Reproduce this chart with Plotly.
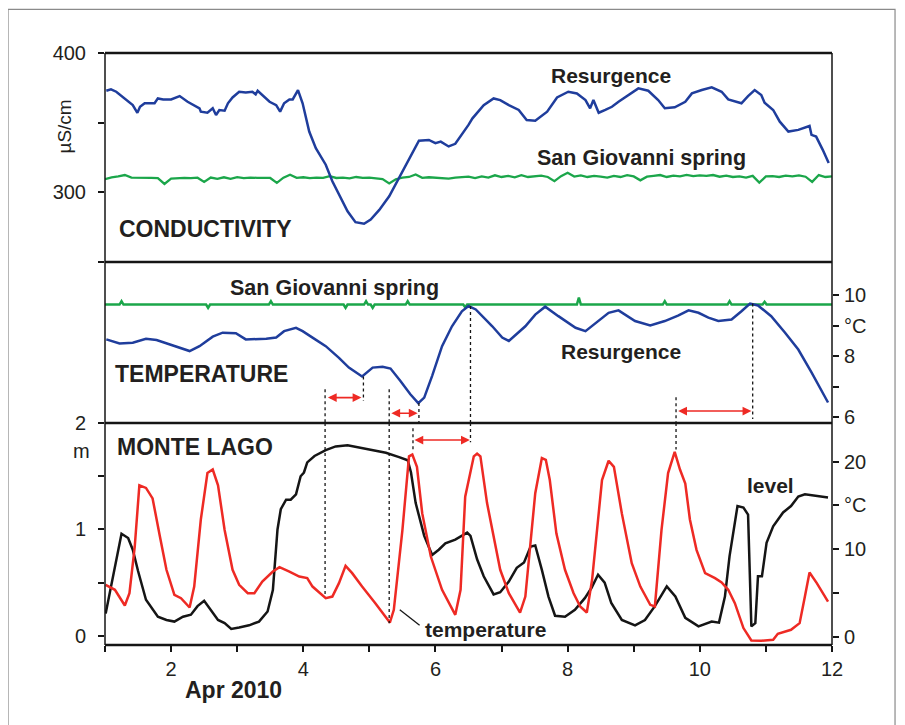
import plotly.graph_objects as go

# ---------------- DATA ----------------
# Conductivity (µS/cm) - Resurgence
res_cond_day = [1.02, 1.09, 1.17, 1.30, 1.42, 1.49, 1.53, 1.60, 1.75, 1.80, 1.88, 2.00, 2.13, 2.25, 2.43, 2.45,
                2.55, 2.63, 2.68, 2.73, 2.81, 2.86, 2.93, 3.03, 3.13, 3.23, 3.28, 3.31, 3.39, 3.49, 3.59, 3.65,
                3.71, 3.79, 3.84, 3.92, 3.99, 4.09, 4.19, 4.34, 4.44, 4.54, 4.67, 4.79, 4.92, 5.02, 5.15, 5.30,
                5.45, 5.60, 5.75, 5.90, 6.00, 6.08, 6.20, 6.30, 6.40, 6.50, 6.56, 6.73, 6.88, 6.98, 7.11, 7.26,
                7.38, 7.51, 7.69, 7.84, 8.01, 8.14, 8.27, 8.34, 8.39, 8.47, 8.57, 8.67, 8.77, 8.92, 9.07, 9.22,
                9.37, 9.47, 9.62, 9.78, 9.88, 10.03, 10.18, 10.33, 10.43, 10.63, 10.73, 10.83, 10.93, 10.98,
                11.11, 11.21, 11.34, 11.49, 11.66, 11.69, 11.76, 11.86, 11.95]
res_cond_val = [372.9, 373.9, 372.2, 367.4, 362.6, 357.1, 361.4, 363.9, 363.9, 367.4, 366.7, 366.7, 369.1, 365.0,
                360.3, 357.9, 357.1, 360.3, 355.5, 359.1, 358.6, 363.9, 368.1, 372.2, 371.7, 372.2, 370.3, 372.9,
                369.1, 365.0, 362.6, 357.9, 363.9, 366.7, 366.7, 373.4, 363.9, 343.6, 331.7, 319.8, 307.9, 298.4,
                286.4, 278.6, 277.4, 280.5, 287.4, 297.1, 310.3, 323.4, 337.1, 337.6, 335.3, 336.4, 332.9, 334.8,
                341.2, 348.4, 353.1, 362.6, 367.4, 366.2, 362.6, 359.1, 351.9, 351.4, 357.9, 368.1, 372.2, 371.0,
                366.2, 360.3, 366.2, 357.1, 359.1, 361.4, 365.0, 369.8, 374.6, 372.9, 366.2, 360.3, 361.0, 365.0,
                371.0, 373.4, 375.3, 372.2, 366.7, 363.9, 369.1, 373.4, 369.8, 364.3, 359.1, 350.7, 343.6, 344.8,
                347.6, 341.2, 340.0, 330.5, 321.0]

# Conductivity (µS/cm) - San Giovanni spring, every 0.1 day from 1.0 to 12.0
sg_cond_day = [round(1.0 + 0.1 * i, 1) for i in range(111)]
sg_cond_val = [309.5, 310.8, 311.5, 312.4, 310.5, 310.6, 310.3, 310.4, 310.2, 306.0,
               309.8, 310.3, 310.4, 310.2, 310.5, 307.5, 310.6, 309.6, 310.8, 309.7,
               310.9, 310.2, 310.6, 310.4, 310.6, 310.3, 306.8, 310.5, 312.6, 310.4,
               310.8, 310.2, 310.5, 310.4, 311.6, 310.3, 310.6, 310.0, 311.0, 310.3,
               310.5, 310.2, 309.5, 306.4, 309.4, 310.6, 311.0, 312.8, 310.4, 310.8,
               310.5, 310.6, 309.8, 310.5, 310.8, 311.2, 310.2, 311.4, 310.6, 312.2,
               311.0, 311.8, 310.8, 312.3, 311.0, 311.6, 312.0, 311.0, 308.0, 311.6,
               314.0, 311.3, 312.2, 311.0, 311.8, 311.2, 310.5, 311.8, 311.0, 312.3,
               311.4, 308.6, 311.2, 311.8, 312.4, 311.0, 312.0, 311.5, 312.5, 311.6,
               312.2, 311.8, 312.4, 311.2, 312.0, 311.0, 311.5, 310.6, 311.8, 307.0,
               311.4, 311.6, 311.0, 312.0, 311.4, 312.2, 311.2, 307.5, 312.4, 311.0,
               311.5]

# Temperature (°C) - Resurgence
res_temp_day = [1.02, 1.22, 1.42, 1.62, 1.78, 1.98, 2.28, 2.43, 2.63, 2.78, 2.98, 3.13, 3.29, 3.44, 3.59, 3.71,
                3.89, 3.99, 4.14, 4.34, 4.54, 4.69, 4.89, 5.05, 5.20, 5.32, 5.47, 5.62, 5.74, 5.83, 5.95, 6.10,
                6.25, 6.40, 6.50, 6.61, 6.86, 7.01, 7.11, 7.36, 7.51, 7.66, 7.86, 8.12, 8.27, 8.47, 8.62, 8.77,
                9.02, 9.25, 9.47, 9.67, 9.83, 9.98, 10.13, 10.28, 10.48, 10.63, 10.76, 10.88, 11.08, 11.29,
                11.49, 11.69, 11.84, 11.94]
res_temp_val = [8.55, 8.42, 8.44, 8.57, 8.53, 8.39, 8.17, 8.33, 8.64, 8.77, 8.75, 8.55, 8.55, 8.57, 8.61, 8.82,
                8.93, 8.82, 8.61, 8.33, 7.95, 7.63, 7.34, 7.63, 7.66, 7.60, 7.19, 6.76, 6.47, 6.65, 7.36, 8.33,
                8.98, 9.47, 9.64, 9.53, 8.98, 8.61, 8.50, 8.98, 9.36, 9.62, 9.31, 8.93, 8.82, 9.15, 9.42, 9.50,
                9.15, 9.01, 9.15, 9.33, 9.50, 9.42, 9.26, 9.15, 9.20, 9.47, 9.72, 9.66, 9.31, 8.77,
                8.22, 7.47, 6.87, 6.49]

# Temperature (°C) - San Giovanni spring
sg_temp_day = [1.0, 1.22, 1.25, 1.28, 2.53, 2.56, 2.59, 3.48, 3.51, 3.54, 4.61, 4.64, 4.67, 4.92, 4.95, 4.98,
               5.02, 5.05, 5.08, 5.55, 5.58, 5.61, 6.42, 6.45, 6.48, 8.14, 8.17, 8.20, 9.44, 9.47, 9.50,
               10.42, 10.45, 10.48, 10.95, 10.98, 11.01, 12.0]
sg_temp_val = [9.69, 9.69, 9.80, 9.69, 9.69, 9.58, 9.69, 9.69, 9.80, 9.69, 9.69, 9.58, 9.69, 9.69, 9.80, 9.69,
               9.69, 9.58, 9.69, 9.69, 9.80, 9.69, 9.69, 9.60, 9.69, 9.69, 9.92, 9.69, 9.69, 9.80, 9.69,
               9.69, 9.80, 9.69, 9.69, 9.78, 9.69, 9.69]

# Monte Lago - level (m)
lvl_day = [1.01, 1.12, 1.25, 1.35, 1.42, 1.50, 1.62, 1.80, 1.93, 2.05, 2.18, 2.30, 2.40, 2.50, 2.60, 2.71, 2.81,
           2.91, 3.03, 3.18, 3.33, 3.46, 3.54, 3.61, 3.66, 3.74, 3.81, 3.89, 3.96, 4.01, 4.06, 4.17, 4.34, 4.49,
           4.67, 4.84, 5.05, 5.25, 5.45, 5.58, 5.63, 5.70, 5.83, 5.95, 6.05, 6.15, 6.30, 6.48, 6.53, 6.63, 6.73,
           6.88, 6.98, 7.11, 7.23, 7.34, 7.44, 7.51, 7.61, 7.71, 7.81, 7.96, 8.11, 8.26, 8.36, 8.46, 8.56, 8.66,
           8.82, 9.02, 9.17, 9.32, 9.50, 9.63, 9.78, 9.98, 10.18, 10.29, 10.38, 10.45, 10.57, 10.66, 10.73,
           10.78, 10.84, 10.88, 10.94, 11.01, 11.11, 11.26, 11.38, 11.49, 11.59, 11.79, 11.94]
lvl_val = [0.21, 0.56, 0.96, 0.92, 0.81, 0.61, 0.34, 0.18, 0.15, 0.135, 0.18, 0.20, 0.28, 0.33, 0.245, 0.15, 0.12,
           0.066, 0.08, 0.10, 0.135, 0.23, 0.43, 1.00, 1.19, 1.28, 1.28, 1.33, 1.50, 1.535, 1.63, 1.69, 1.745, 1.78,
           1.79, 1.77, 1.74, 1.72, 1.68, 1.65, 1.535, 1.25, 0.94, 0.76, 0.81, 0.87, 0.905, 0.97, 0.94, 0.72, 0.56,
           0.39, 0.41, 0.51, 0.64, 0.69, 0.84, 0.85, 0.62, 0.37, 0.19, 0.18, 0.245, 0.355, 0.45, 0.575, 0.50, 0.31,
           0.15, 0.10, 0.15, 0.28, 0.465, 0.37, 0.17, 0.09, 0.135, 0.125, 0.37, 0.75, 1.22, 1.205, 1.14,
           0.09, 0.12, 0.56, 0.56, 0.875, 1.03, 1.16, 1.22, 1.31, 1.33, 1.31, 1.30]

# Monte Lago - temperature (°C)
ml_temp_day = [1.01, 1.15, 1.30, 1.37, 1.45, 1.52, 1.62, 1.72, 1.83, 1.93, 2.05, 2.15, 2.28, 2.35, 2.45, 2.55,
               2.63, 2.71, 2.81, 2.93, 3.03, 3.16, 3.26, 3.38, 3.54, 3.64, 3.79, 3.94, 4.06, 4.14, 4.34, 4.44,
               4.54, 4.64, 4.74, 4.89, 5.09, 5.31, 5.37, 5.50, 5.60, 5.65, 5.72, 5.80, 5.93, 6.10, 6.30, 6.38,
               6.45, 6.58, 6.63, 6.68, 6.78, 6.88, 6.98, 7.11, 7.28, 7.36, 7.51, 7.61, 7.67, 7.73, 7.83, 7.96,
               8.09, 8.19, 8.29, 8.37, 8.52, 8.62, 8.70, 8.82, 8.97, 9.10, 9.25, 9.32, 9.42, 9.52, 9.62, 9.70,
               9.78, 9.85, 9.95, 10.08, 10.23, 10.33, 10.43, 10.53, 10.66, 10.78, 10.93, 11.11, 11.18, 11.38,
               11.51, 11.59, 11.66, 11.77, 11.87, 11.94]
ml_temp_val = [5.96, 5.39, 3.60, 5.00, 10.3, 17.3, 17.0, 15.8, 11.5, 7.67, 4.82, 4.44, 3.37, 5.76, 13.4, 18.7,
               19.1, 17.3, 12.2, 7.67, 5.96, 5.00, 5.00, 6.33, 7.47, 7.97, 7.47, 6.90, 6.72, 5.76, 4.44, 4.62,
               6.15, 8.12, 7.29, 5.76, 3.87, 1.66, 3.11, 12.2, 20.6, 20.8, 19.4, 14.1, 9.18, 5.39, 2.54, 5.39,
               16.0, 20.6, 20.9, 20.6, 15.3, 11.65, 7.67, 5.00, 2.80, 4.62, 16.4, 20.4, 20.2, 17.9, 11.8, 7.67,
               5.00, 3.49, 2.80, 6.53, 17.9, 20.1, 19.4, 14.1, 8.43, 5.76, 3.68, 3.49, 12.2, 18.7, 21.1, 19.1,
               17.5, 13.4, 9.94, 7.29, 6.72, 6.22, 5.39, 3.87, 1.03, -0.39, -0.42, -0.31, 0.38, 0.83,
               1.59, 4.62, 7.36, 6.15, 4.82, 4.05]

# Axis ticks / labels
x_ticks = list(range(1, 13))
x_ticktext = ["", "2", "", "4", "", "6", "", "8", "", "10", "", "12"]
cond_ticks = [250, 300, 350, 400]
cond_ticktext = ["", "300", "", "400"]
t2_ticks = [6, 7, 8, 9, 10]
t2_ticktext = ["6", "", "8", "°C", "10"]
lvl_ticks = [0, 0.5, 1, 1.5, 2]
lvl_ticktext = ["0", "", "1", "", "2"]
t3_ticks = [0, 5, 10, 15, 20]
t3_ticktext = ["0", "", "10", "°C", "20"]

# ---------------- STYLE ----------------
BLUE = "#1f3d9c"
GREEN = "#1ba64a"
RED = "#ee2a24"
BLACK = "#151515"
TXT = "#231f20"
FONT = "Liberation Sans, Arial, Helvetica, sans-serif"

P1 = [0.647, 1.0]
P2 = [0.375, 0.647]
P3 = [0.0, 0.375]

fig = go.Figure()
fig.add_trace(go.Scatter(x=sg_cond_day, y=sg_cond_val, xaxis="x", yaxis="y", mode="lines",
                         line=dict(color=GREEN, width=2.3)))
fig.add_trace(go.Scatter(x=res_cond_day, y=res_cond_val, xaxis="x", yaxis="y", mode="lines",
                         line=dict(color=BLUE, width=2.5)))
fig.add_trace(go.Scatter(x=sg_temp_day, y=sg_temp_val, xaxis="x", yaxis="y2", mode="lines",
                         line=dict(color=GREEN, width=2.5)))
fig.add_trace(go.Scatter(x=res_temp_day, y=res_temp_val, xaxis="x", yaxis="y2", mode="lines",
                         line=dict(color=BLUE, width=2.5)))
fig.add_trace(go.Scatter(x=lvl_day, y=lvl_val, xaxis="x", yaxis="y3", mode="lines",
                         line=dict(color=BLACK, width=2.5)))
fig.add_trace(go.Scatter(x=ml_temp_day, y=ml_temp_val, xaxis="x", yaxis="y4", mode="lines",
                         line=dict(color=RED, width=2.5)))

tickfont = dict(family=FONT, size=20, color=TXT)
axis_common = dict(showgrid=False, zeroline=False, showline=False, ticks="outside", ticklen=6,
                   tickwidth=1.5, tickcolor=BLACK, tickfont=tickfont)

shapes = []
# panel borders
for yv in [0.0, P3[1], P2[1], 1.0]:
    shapes.append(dict(type="line", xref="paper", yref="paper", x0=0, x1=1, y0=yv, y1=yv,
                       line=dict(color=BLACK, width=2.5)))
for xv in [0.0, 1.0]:
    shapes.append(dict(type="line", xref="paper", yref="paper", x0=xv, x1=xv, y0=0, y1=1,
                       line=dict(color=BLACK, width=1.5)))
# outer frame
shapes.append(dict(type="rect", xref="paper", yref="paper", x0=-0.1334, x1=1.0867, y0=-0.16, y1=1.0738,
                   line=dict(color="#8a8a8a", width=1.2), layer="below"))

dot = dict(color=BLACK, width=1.3, dash="dot")
# dotted lines (day, axis, y0, y1)
dotted = [
    (4.33, "y2", 6.92, 5.82), (4.33, "y3", 2.0, 0.39),
    (4.91, "y2", 7.34, 6.54),
    (5.30, "y2", 6.92, 5.82), (5.30, "y3", 2.0, 0.12),
    (5.75, "y2", 6.47, 5.82),
    (5.66, "y3", 1.95, 1.73),
    (6.53, "y2", 9.64, 5.82), (6.53, "y3", 2.0, 1.82),
    (9.64, "y2", 6.66, 5.82), (9.64, "y3", 2.0, 1.75),
    (10.80, "y2", 9.72, 5.95),
]
for d, ax, y0, y1 in dotted:
    shapes.append(dict(type="line", xref="x", yref=ax, x0=d, x1=d, y0=y0, y1=y1, line=dot))
# leader line to "temperature"
shapes.append(dict(type="line", xref="x", yref="y3", x0=5.46, x1=5.76, y0=0.245, y1=0.10,
                   line=dict(color=BLACK, width=1.3)))

annotations = []
# red double arrows (x_start, x_end, axis, y)
arrows = [(4.35, 4.88, "y2", 6.65), (5.31, 5.73, "y2", 6.14), (5.66, 6.52, "y3", 1.84),
          (9.65, 10.78, "y2", 6.21)]
for xs, xe, ax, yv in arrows:
    annotations.append(dict(x=xe, y=yv, ax=xs, ay=yv, xref="x", yref=ax, axref="x", ayref=ax,
                            text="", showarrow=True, arrowside="end+start", arrowhead=2,
                            startarrowhead=2, arrowsize=1.1, startarrowsize=1.1, arrowwidth=1.6,
                            arrowcolor=RED, standoff=0, startstandoff=0))


def lab(text, x, y, yref, size=21, xanchor="center", bold=True):
    annotations.append(dict(text=text, x=x, y=y, xref="x", yref=yref, xanchor=xanchor,
                            yanchor="middle", showarrow=False,
                            font=dict(family=FONT, size=size, color=TXT,
                                      weight="bold" if bold else "normal")))


lab("Resurgence", 8.65, 384.1, "y", 21)
lab("San Giovanni spring", 9.12, 324.8, "y", 21.5)
lab("CONDUCTIVITY", 1.18, 273.4, "y", 23, "left")
lab("San Giovanni spring", 4.475, 10.24, "y2", 21.5)
lab("TEMPERATURE", 1.12, 7.41, "y2", 23, "left")
lab("Resurgence", 8.80, 8.17, "y2", 21)
lab("MONTE LAGO", 1.15, 1.77, "y3", 23, "left")
lab("temperature", 6.76, 0.057, "y3", 21)
lab("level", 11.07, 1.41, "y3", 21)

annotations.append(dict(text="µS/cm", x=-0.057, y=0.875, xref="paper", yref="paper", textangle=-90,
                        showarrow=False, xanchor="center", yanchor="middle",
                        font=dict(family=FONT, size=19, color=TXT)))
annotations.append(dict(text="m", x=-0.032, y=0.328, xref="paper", yref="paper",
                        showarrow=False, xanchor="center", yanchor="middle",
                        font=dict(family=FONT, size=20, color=TXT)))
annotations.append(dict(text="Apr 2010", x=0.177, y=-0.076, xref="paper", yref="paper",
                        showarrow=False, xanchor="center", yanchor="middle",
                        font=dict(family=FONT, size=23, color=TXT, weight="bold")))

# The page body has an 8px margin, so the plot area offsets compensate for it.
fig.update_layout(
    width=905, height=725,
    margin=dict(l=97, r=81, t=45, b=88),
    paper_bgcolor="white", plot_bgcolor="white",
    showlegend=False,
    xaxis=dict(domain=[0, 1], range=[1, 12], anchor="y3", tickvals=x_ticks, ticktext=x_ticktext,
               **axis_common),
    yaxis=dict(domain=P1, range=[250, 400], anchor="x", tickvals=cond_ticks, ticktext=cond_ticktext,
               ticklabelstandoff=8, **axis_common),
    yaxis2=dict(domain=P2, range=[5.82, 11.08], anchor="x", side="right", tickvals=t2_ticks,
                ticktext=t2_ticktext, ticklabelstandoff=1, **axis_common),
    yaxis3=dict(domain=P3, range=[-0.085, 2.0], anchor="x", tickvals=lvl_ticks, ticktext=lvl_ticktext,
                ticklabelstandoff=8, **axis_common),
    yaxis4=dict(overlaying="y3", range=[-0.9, 24.4], anchor="x", side="right", tickvals=t3_ticks,
                ticktext=t3_ticktext, ticklabelstandoff=1, **axis_common),
    shapes=shapes,
    annotations=annotations,
)

fig.write_html("out.html")
